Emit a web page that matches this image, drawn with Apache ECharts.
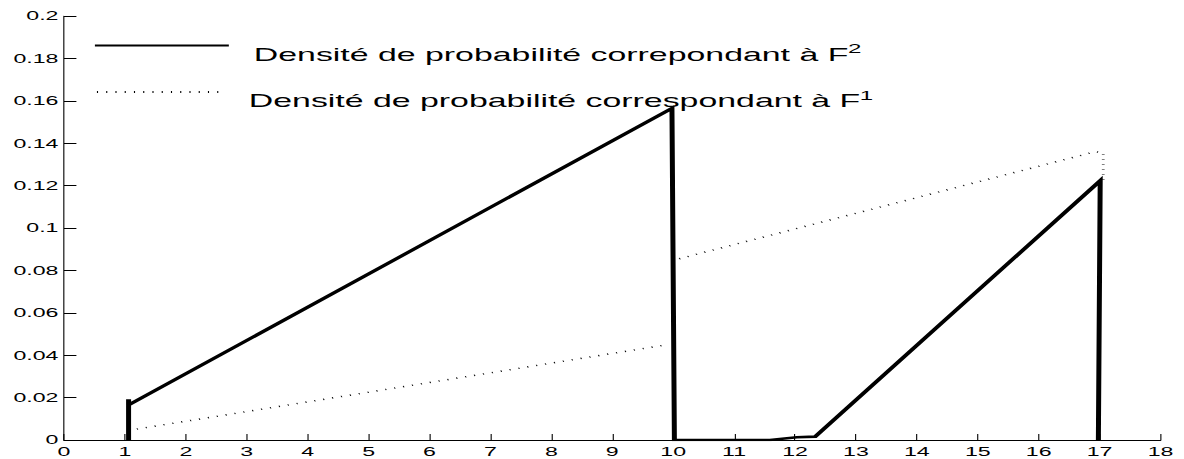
<!DOCTYPE html>
<html>
<head>
<meta charset="utf-8">
<title>Densité de probabilité</title>
<script src="https://cdn.jsdelivr.net/npm/echarts@6/dist/echarts.min.js"></script>
<style>
    html, body { margin: 0; padding: 0; background: #fff; overflow: hidden; }
    /* the original figure was exported horizontally stretched, so draw narrow and stretch it back */
    #main { width: 640px; height: 459px; transform: scaleX(1.85); transform-origin: 0 0; }
</style>
</head>
<body>
<div id="main"></div>
<script>
    // axis ranges / ticks
    var xTicks = {min: 0, max: 18, step: 1};
    var yTicks = {min: 0, max: 0.2, step: 0.02};

    // density for F^2 (solid)
    var f2X = [1.06, 1.06, 1.06, 9.98, 10.02, 11.59, 12.03, 12.33, 17.01, 16.98];
    var f2Y = [0, 0.0192, 0.0165, 0.1565, 0, 0, 0.0013, 0.0016, 0.1223, 0];

    // density for F^1 (dotted), null = gap at x = 10
    var f1X = [1.05, 9.87, null, 10.1, 16.93, 17.06, 17.06];
    var f1Y = [0.0045, 0.0448, null, 0.0855, 0.136, 0.1355, 0.1215];

    var nameF2 = "Densité de probabilité correpondant à F";
    var nameF1 = "Densité de probabilité correspondant à F";
    var supText = {};
    supText[nameF2] = "2";
    supText[nameF1] = "1";

    function zip(xs, ys) {
        var out = [];
        for (var i = 0; i < xs.length; i++) {
            if (xs[i] === null || ys[i] === null) out.push('-');
            else out.push([xs[i], ys[i]]);
        }
        return out;
    }

    var font = '"Liberation Sans", Arial, Helvetica, sans-serif';

    var legendText = {
        color: '#000',
        fontFamily: font,
        rich: {
            t: {fontSize: 18.3, lineHeight: 24, fontFamily: font, color: '#000'},
            s: {fontSize: 13, lineHeight: 5, verticalAlign: 'top', fontFamily: font, color: '#000'}
        }
    };

    function legendFormatter(name) {
        return '{t|' + name + '}{s|' + supText[name] + '}';
    }

    var chart = echarts.init(document.getElementById('main'), null, {renderer: 'svg'});

    var option = {
        animation: false,
        backgroundColor: '#fff',
        grid: {left: 34.6, right: 12.7, top: 16, bottom: 19},
        legend: [
            {
                data: [nameF2], left: 50.3, top: 40, padding: 0,
                itemWidth: 72.4, itemHeight: 14, selectedMode: false,
                itemStyle: {opacity: 0},
                formatter: legendFormatter,
                textStyle: Object.assign({padding: [18, 0, 0, 8.5]}, legendText)
            },
            {
                data: [nameF1], left: 51.4, top: 86.5, padding: 0,
                itemWidth: 66.5, itemHeight: 14, selectedMode: false,
                itemStyle: {opacity: 0},
                formatter: legendFormatter,
                textStyle: Object.assign({padding: [18, 0, 0, 10.6]}, legendText)
            }
        ],
        xAxis: {
            type: 'value',
            min: xTicks.min, max: xTicks.max, interval: xTicks.step,
            splitLine: {show: false},
            axisLine: {lineStyle: {color: '#000', width: 1}},
            axisTick: {inside: true, length: 6, lineStyle: {color: '#000', width: 0.6}},
            axisLabel: {color: '#000', fontSize: 12.5, fontFamily: font, margin: 5}
        },
        yAxis: {
            type: 'value',
            min: yTicks.min, max: yTicks.max, interval: yTicks.step,
            splitLine: {show: false},
            axisLine: {show: true, lineStyle: {color: '#000', width: 0.6}},
            axisTick: {show: true, inside: true, length: 6.7, lineStyle: {color: '#000', width: 1}},
            axisLabel: {color: '#000', fontSize: 12.5, fontFamily: font, margin: 3}
        },
        series: [
            {
                name: nameF1,
                type: 'line',
                symbol: 'none',
                data: zip(f1X, f1Y),
                lineStyle: {color: '#000', width: 1.5, type: [0.6, 4.4]},
                itemStyle: {color: '#000'}
            },
            {
                name: nameF2,
                type: 'line',
                symbol: 'none',
                data: zip(f2X, f2Y),
                lineStyle: {color: '#000', width: 2.7, join: 'miter'},
                itemStyle: {color: '#000'}
            }
        ]
    };

    chart.setOption(option);
</script>
</body>
</html>
